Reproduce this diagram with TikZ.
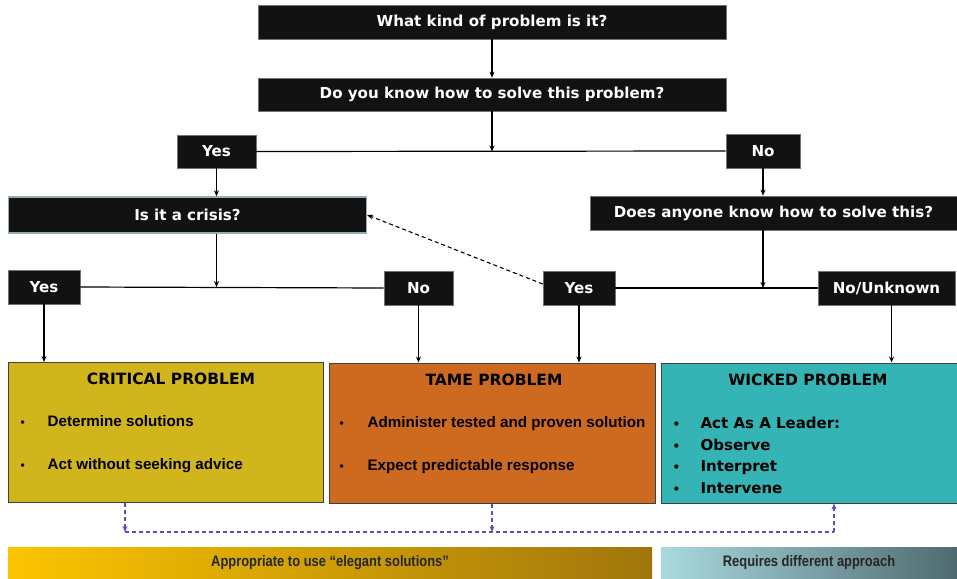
\documentclass[tikz,border=0pt]{standalone}
\usepackage{fontspec}
\setmainfont{Liberation Sans}
\newfontfamily\labelfont{DejaVu Sans}
\newfontfamily\barfont[FakeStretch=0.85]{Liberation Sans}
\usetikzlibrary{positioning, arrows.meta}

\definecolor{critcol}{RGB}{208,181,28}
\definecolor{tamecol}{RGB}{206,106,32}
\definecolor{wickcol}{RGB}{52,180,180}
\definecolor{linkblue}{RGB}{88,78,190}
\definecolor{qrim}{RGB}{150,172,178}

\newcommand{\pbullet}[1]{\makebox[#1][l]{\fontsize{12}{12}\selectfont\textbullet}}

\begin{document}
\begin{tikzpicture}[x=1pt, y=-1pt, >={Stealth[length=6pt, width=5pt]}, line width=1.2pt]
    \tikzstyle{qbox}=[fill=black!93, draw=black!55, line width=0.6pt, text=white, inner sep=0pt, minimum height=34pt, font=\labelfont\bfseries\fontsize{15.1}{18}\selectfont]
    \tikzstyle{pbox}=[draw=black!75, line width=1pt, inner sep=0pt, minimum height=140pt]
    \tikzstyle{ptitle}=[inner sep=0pt, font=\labelfont\bfseries\fontsize{15.5}{18}\selectfont]
    \tikzstyle{pitem}=[anchor=base west, inner sep=0pt, font=\bfseries\fontsize{15.2}{17}\selectfont]
    \tikzstyle{witem}=[anchor=base west, inner sep=0pt, font=\labelfont\bfseries\fontsize{15}{17}\selectfont]
    \tikzstyle{bar}=[inner sep=0pt, minimum height=31pt, text=black!85, font=\barfont\bfseries\fontsize{15.2}{17}\selectfont]
    \tikzstyle{bluelink}=[draw=linkblue, line width=1.2pt, dash pattern=on 4pt off 3pt]

    \useasboundingbox (0,0) rectangle (957,578);

    % questions
    \node[qbox, minimum width=468pt] (kind) at (492,22) {What kind of problem is it?};
    \node[qbox, minimum width=468pt, minimum height=33pt] (know) at (492,94.5) {Do you know how to solve this problem?};
    \node[qbox, minimum width=79pt, minimum height=33pt] (yes1) at (216.5,151.5) {Yes};
    \node[qbox, minimum width=74pt] (no1) at (763,151) {No};
    \node[qbox, draw=qrim, line width=1.4pt, minimum width=358pt, minimum height=36pt] (crisis) at (187.5,215) {Is it a crisis?};
    \node[qbox, minimum width=367pt] (anyone) at (773.5,213) {Does anyone know how to solve this?};
    \node[qbox, minimum width=72pt] (yes2) at (44,287) {Yes};
    \node[qbox, minimum width=69pt] (no2) at (418.5,288) {No};
    \node[qbox, minimum width=72pt] (yes3) at (579,288) {Yes};
    \node[qbox, minimum width=137pt] (unknown) at (886.5,288) {No/Unknown};

    % problem boxes
    \node[pbox, fill=critcol, minimum width=315pt] (critical) at (165.5,432.5) {};
    \node[pbox, fill=tamecol, minimum width=326pt] (tame) at (492,433) {};
    \node[pbox, fill=wickcol, minimum width=296pt] (wicked) at (809,433) {};

    \node[ptitle] (crittitle) at (171,379) {CRITICAL PROBLEM};
    \node[ptitle] (tametitle) at (494,380) {TAME PROBLEM};
    \node[ptitle] (wicktitle) at (808,380) {WICKED PROBLEM};

    \node[pitem] (crit1) at (20,426.5) {\pbullet{27pt}Determine solutions};
    \node[pitem] (crit2) at (20,469.5) {\pbullet{27pt}Act without seeking advice};
    \node[pitem] (tame1) at (339,427.5) {\pbullet{28pt}Administer tested and proven solution};
    \node[pitem] (tame2) at (339,470.5) {\pbullet{28pt}Expect predictable response};
    \node[witem] (wick1) at (672,428.5) {\pbullet{28pt}Act As A Leader:};
    \node[witem] (wick2) at (672,450) {\pbullet{28pt}Observe};
    \node[witem] (wick3) at (672,471.5) {\pbullet{28pt}Interpret};
    \node[witem] (wick4) at (672,493) {\pbullet{28pt}Intervene};

    % bottom bars
    \node[bar, left color={rgb,255:red,252;green,197;blue,0}, right color={rgb,255:red,160;green,118;blue,12}, minimum width=644pt] (elegant) at (330,562.5) {Appropriate to use “elegant solutions”};
    \node[bar, left color={rgb,255:red,170;green,218;blue,222}, right color={rgb,255:red,78;green,106;blue,112}, minimum width=296pt] (different) at (809,562.5) {Requires different approach};

    % connectors
    \coordinate (split1) at (know |- yes1);
    \coordinate (split2) at (yes1 |- yes2);
    \coordinate (split3) at (no1 |- yes3);
    \draw[->] (kind) -- (know);
    \draw[->] (know) -- (split1);
    \draw (yes1.east) -- (no1.west);
    \draw[->] (yes1.south) -- (yes1.south |- crisis.north);
    \draw[->] (no1.south) -- (no1.south |- anyone.north);
    \draw[->] (yes1 |- crisis.south) -- (split2);
    \draw (yes2.east) -- (no2.west);
    \draw[->] (no1 |- anyone.south) -- (split3);
    \draw (yes3.east) -- (unknown.west);
    \draw[->, line width=1.1pt, dash pattern=on 4pt off 3pt] ([yshift=4pt]yes3.west) -- (crisis.east);
    \draw[->] (yes2.south) -- (yes2.south |- critical.north);
    \draw[->] (no2.south) -- (no2.south |- tame.north);
    \draw[->] (yes3.south) -- (yes3.south |- tame.north);
    \draw[->] ([xshift=5pt]unknown.south) -- ([xshift=5pt]unknown.south |- wicked.north);

    \coordinate (link1) at (125,532);
    \coordinate (link2) at (tame |- link1);
    \coordinate (link3) at (834,532);
    \draw[bluelink, ->] (link1 |- critical.south) -- (link1);
    \draw[bluelink, ->] (tame.south) -- (link2);
    \draw[bluelink] (link1) -- (link3);
    \draw[bluelink, ->] (link3) -- (link3 |- wicked.south);
\end{tikzpicture}
\end{document}
